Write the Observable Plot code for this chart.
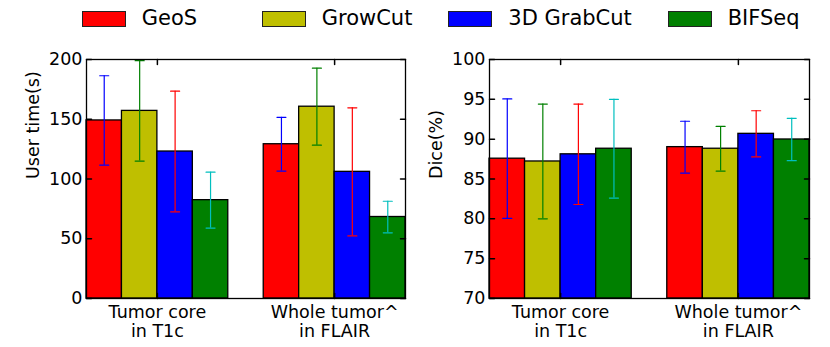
<!DOCTYPE html>
<html>
<head>
<meta charset="utf-8">
<script src="https://cdn.jsdelivr.net/npm/d3@7"></script>
<script src="https://cdn.jsdelivr.net/npm/@observablehq/plot@0.6"></script>
<style>
  html, body { margin: 0; padding: 0; background: white; }
  #fig { position: relative; width: 830px; height: 347px; overflow: hidden; font-family: "DejaVu Sans", sans-serif; }
  #fig svg { position: absolute; top: 40px; background: transparent; }
  #legend { position: absolute; left: 0; top: 0; width: 830px; height: 34px; z-index: 2; }
  .item { position: absolute; top: 0; height: 34px; }
  .sw { position: absolute; top: 10.5px; width: 42px; height: 14px; border: 1px solid #222; }
  .lb { position: absolute; top: 8px; font-size: 21px; line-height: 21px; white-space: nowrap; color: black; }
</style>
</head>
<body>
<div id="fig"><div id="legend"></div></div>
<script>
// ---- data ----
const groups = ["Tumor core\nin T1c", "Whole tumor^\nin FLAIR"];
const methods = ["GeoS", "GrowCut", "3D GrabCut", "BIFSeq"];
// user time (s): [tumor core, whole tumor] per method
const timeMean = [[149, 157, 123, 82.3], [129.1, 160.5, 106, 68.2]];
const timeErr  = [[37.4, 42, 50.5, 23.4], [22.5, 32.2, 53.6, 13.2]];
// dice (%)
const diceMean = [[87.55, 87.2, 88.1, 88.8], [89.0, 88.8, 90.67, 89.96]];
const diceErr  = [[7.5, 7.2, 6.3, 6.2], [3.25, 2.8, 2.9, 2.66]];
const timeTicks = [0, 50, 100, 150, 200];
const diceTicks = [70, 75, 80, 85, 90, 95, 100];

// ---- styles ----
const barColors = ["#ff0000", "#bfbf00", "#0000ff", "#008000"];
const errColors = ["#0000ff", "#008000", "#ff0000", "#00bfbf"];
const legendLeft = [81.7, 261.7, 448.3, 667.7];

const slotsPerGroup = methods.length + 1;
const nSlots = groups.length * slotsPerGroup - 1;
const groupCenters = groups.map((g, gi) => gi * slotsPerGroup + methods.length / 2);

const line = {draw(context, l) { context.moveTo(0, 0); context.lineTo(0, -l); }};

function chart({means, errs, ticks, label, width, marginLeft, marginRight}) {
  const rows = groups.flatMap((g, gi) => methods.map((m, mi) => ({
    group: g, method: m, mi, slot: gi * slotsPerGroup + mi,
    value: means[gi][mi], err: errs[gi][mi]
  })));
  const base = ticks[0];
  const cx = d => d.slot + 0.5;
  return Plot.plot({
    width, height: 307, marginTop: 19, marginBottom: 49, marginLeft, marginRight,
    style: {fontFamily: "DejaVu Sans", fontSize: "17.5px", color: "black", background: "transparent", overflow: "visible"},
    x: {domain: [0, nSlots], axis: null},
    y: {domain: [ticks[0], ticks[ticks.length - 1]], axis: null},
    color: {type: "identity"},
    marks: [
      Plot.rectY(rows, {x1: "slot", x2: d => d.slot + 1, y1: base, y2: "value",
        fill: d => barColors[d.mi], stroke: "black", strokeWidth: 1.3}),
      Plot.ruleX(rows, {x: cx, y1: d => d.value - d.err, y2: d => d.value + d.err,
        stroke: d => errColors[d.mi], strokeWidth: 1.2}),
      Plot.vector(rows, {x: cx, y: d => d.value + d.err, length: 9, rotate: 90, anchor: "middle",
        shape: line, stroke: d => errColors[d.mi], strokeWidth: 1.2}),
      Plot.vector(rows, {x: cx, y: d => d.value - d.err, length: 9, rotate: 90, anchor: "middle",
        shape: line, stroke: d => errColors[d.mi], strokeWidth: 1.2}),
      // inward ticks
      Plot.vector(ticks, {y: d => d, frameAnchor: "left", length: 5, rotate: 90, anchor: "start", shape: line, stroke: "black"}),
      Plot.vector(ticks, {y: d => d, frameAnchor: "right", length: 5, rotate: -90, anchor: "start", shape: line, stroke: "black"}),
      Plot.vector(groupCenters, {x: d => d, frameAnchor: "top", length: 5, rotate: 180, anchor: "start", shape: line, stroke: "black"}),
      Plot.vector(groupCenters, {x: d => d, frameAnchor: "bottom", length: 5, rotate: 0, anchor: "start", shape: line, stroke: "black"}),
      Plot.frame({stroke: "black", strokeWidth: 1.3}),
      // tick labels
      Plot.text(ticks, {y: d => d, frameAnchor: "left", text: d => String(d), textAnchor: "end", dx: -4, fontSize: 17.5}),
      Plot.text(groupCenters, {x: d => d, frameAnchor: "bottom", text: (d, i) => groups[i],
        lineAnchor: "top", dy: 6, lineHeight: 1.07, fontSize: 17.5}),
      // axis label
      Plot.text([label], {frameAnchor: "left", rotate: -90, dx: -53, fontSize: 17.5})
    ]
  });
}

const fig = document.getElementById("fig");
const left = chart({means: timeMean, errs: timeErr, ticks: timeTicks, label: "User time(s)",
  width: 415, marginLeft: 86, marginRight: 10});
left.style.left = "0px";
fig.appendChild(left);
const right = chart({means: diceMean, errs: diceErr, ticks: diceTicks, label: "Dice(%)",
  width: 415, marginLeft: 74, marginRight: 21});
right.style.left = "415px";
fig.appendChild(right);

const legend = document.getElementById("legend");
methods.forEach((m, i) => {
  const item = document.createElement("div");
  item.className = "item";
  item.style.left = legendLeft[i] + "px";
  const sw = document.createElement("div");
  sw.className = "sw";
  sw.style.background = barColors[i];
  sw.style.left = "0px";
  const lb = document.createElement("div");
  lb.className = "lb";
  lb.style.left = "60px";
  lb.textContent = m;
  item.appendChild(sw);
  item.appendChild(lb);
  legend.appendChild(item);
});
</script>
</body>
</html>
